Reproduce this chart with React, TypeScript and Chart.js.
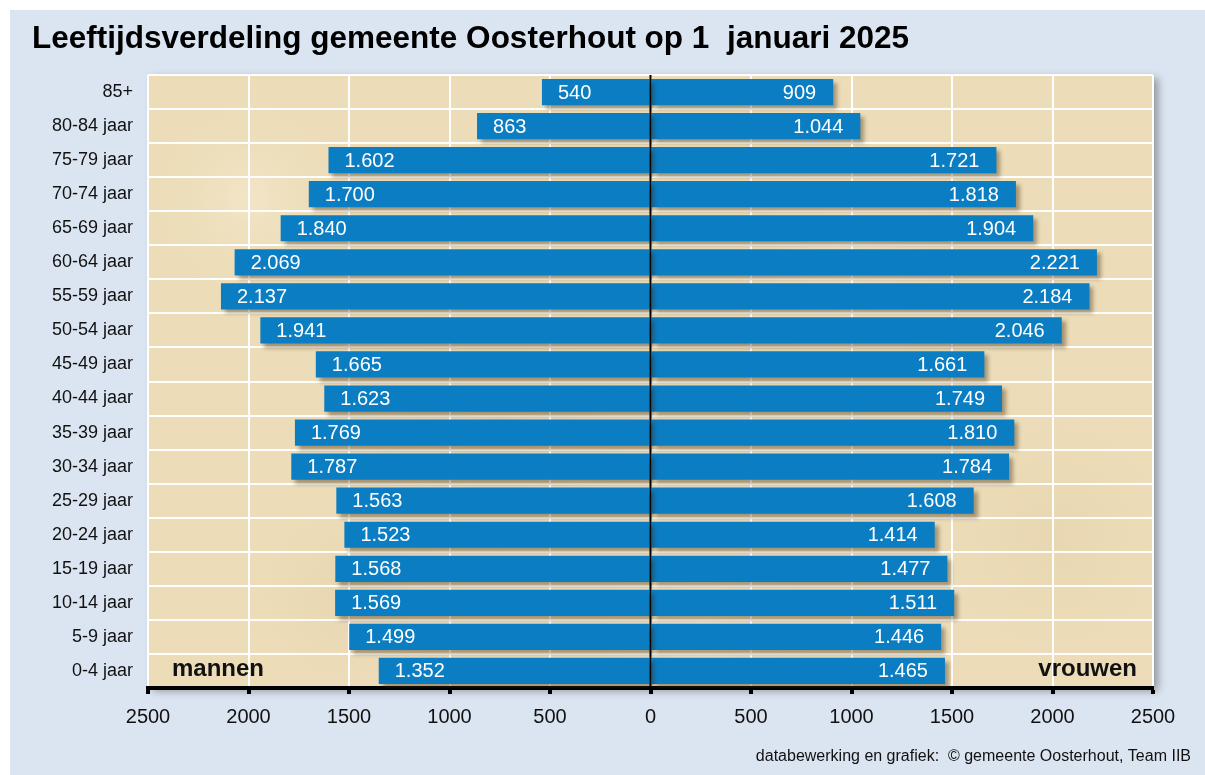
import React, { useEffect, useRef } from "react";
import { Chart, registerables } from "chart.js";

Chart.register(...registerables);

const categories = [
  "85+", "80-84 jaar", "75-79 jaar", "70-74 jaar", "65-69 jaar", "60-64 jaar",
  "55-59 jaar", "50-54 jaar", "45-49 jaar", "40-44 jaar", "35-39 jaar", "30-34 jaar",
  "25-29 jaar", "20-24 jaar", "15-19 jaar", "10-14 jaar", "5-9 jaar", "0-4 jaar",
];
const mannen = [540, 863, 1602, 1700, 1840, 2069, 2137, 1941, 1665, 1623, 1769, 1787, 1563, 1523, 1568, 1569, 1499, 1352];
const vrouwen = [909, 1044, 1721, 1818, 1904, 2221, 2184, 2046, 1661, 1749, 1810, 1784, 1608, 1414, 1477, 1511, 1446, 1465];
const axisMin = -2500;
const axisMax = 2500;
const axisStep = 500;

const TITLE = "Leeftijdsverdeling gemeente Oosterhout op 1  januari 2025";
const FOOTER = "databewerking en grafiek:  \u00A9 gemeente Oosterhout, Team IIB";
const FONT = "'Liberation Sans', Arial, Helvetica, sans-serif";
const BLUE = "#0b7dc2";

const fmt = (v: number) => {
  const s = String(Math.abs(v));
  return s.length > 3 ? s.slice(0, -3) + "." + s.slice(-3) : s;
};

const decor = {
  id: "decor",
  beforeDraw(chart: any) {
    const { ctx, chartArea: a, width, height } = chart;
    ctx.save();
    ctx.fillStyle = "#ffffff";
    ctx.fillRect(0, 0, width, height);
    ctx.fillStyle = "#dbe5f1";
    ctx.fillRect(10, 10, width - 10, height - 10);
    ctx.shadowColor = "rgba(0,0,0,0.35)";
    ctx.shadowBlur = 8;
    ctx.shadowOffsetX = 5;
    ctx.shadowOffsetY = 3;
    ctx.fillStyle = "#ecdcb7";
    ctx.fillRect(a.left, a.top, a.right - a.left, a.bottom - a.top);
    ctx.restore();
    // soft parchment mottling
    ctx.save();
    ctx.beginPath();
    ctx.rect(a.left, a.top, a.right - a.left, a.bottom - a.top);
    ctx.clip();
    const spots = [
      [0.1, 0.2, 120, "rgba(248,238,214,0.5)"],
      [0.35, 0.6, 160, "rgba(222,200,160,0.35)"],
      [0.7, 0.3, 140, "rgba(246,236,210,0.5)"],
      [0.9, 0.75, 150, "rgba(224,204,165,0.35)"],
      [0.55, 0.9, 120, "rgba(248,238,214,0.45)"],
      [0.2, 0.85, 110, "rgba(222,202,162,0.35)"],
    ];
    for (const [fx, fy, r, c] of spots as any) {
      const x = a.left + fx * (a.right - a.left);
      const y = a.top + fy * (a.bottom - a.top);
      const g = ctx.createRadialGradient(x, y, 0, x, y, r);
      g.addColorStop(0, c);
      g.addColorStop(1, "rgba(236,220,183,0)");
      ctx.fillStyle = g;
      ctx.fillRect(x - r, y - r, 2 * r, 2 * r);
    }
    ctx.restore();
  },
  beforeDatasetDraw(chart: any) {
    const ctx = chart.ctx;
    ctx.save();
    ctx.shadowColor = "rgba(60,40,10,0.4)";
    ctx.shadowBlur = 4;
    ctx.shadowOffsetX = 4;
    ctx.shadowOffsetY = 4;
  },
  afterDatasetDraw(chart: any) {
    chart.ctx.restore();
  },
  afterDatasetsDraw(chart: any) {
    const { ctx, chartArea: a } = chart;
    ctx.save();
    ctx.font = `20px ${FONT}`;
    ctx.fillStyle = "#ffffff";
    ctx.textBaseline = "middle";
    chart.getDatasetMeta(0).data.forEach((el: any, i: number) => {
      ctx.textAlign = "left";
      ctx.fillText(fmt(mannen[i]), el.x + 16, el.y + 1);
    });
    chart.getDatasetMeta(1).data.forEach((el: any, i: number) => {
      ctx.textAlign = "right";
      ctx.fillText(fmt(vrouwen[i]), el.x - 17, el.y + 1);
    });
    const x0 = chart.scales.x.getPixelForValue(0);
    ctx.strokeStyle = "#000";
    ctx.lineWidth = 2;
    ctx.beginPath();
    ctx.moveTo(x0, a.top);
    ctx.lineTo(x0, a.bottom);
    ctx.stroke();
    ctx.restore();
  },
  afterDraw(chart: any) {
    const { ctx, chartArea: a, width } = chart;
    ctx.save();
    ctx.fillStyle = "#111";
    ctx.textBaseline = "middle";
    ctx.font = `bold 24px ${FONT}`;
    ctx.textAlign = "left";
    ctx.fillText("mannen", a.left + 24, 669);
    ctx.textAlign = "right";
    ctx.fillText("vrouwen", a.right - 16, 669);
    ctx.font = `16px ${FONT}`;
    ctx.fillStyle = "#111";
    ctx.fillText(FOOTER, width - 14, 757);
    ctx.restore();
  },
};

export default function App() {
  const ref = useRef<HTMLCanvasElement>(null);
  useEffect(() => {
    document.body.style.margin = "0";
    const chart = new Chart(ref.current as HTMLCanvasElement, {
      type: "bar",
      data: {
        labels: categories,
        datasets: [
          { label: "mannen", data: mannen.map((v) => -v), backgroundColor: BLUE, barPercentage: 0.77, categoryPercentage: 1 },
          { label: "vrouwen", data: vrouwen, backgroundColor: BLUE, barPercentage: 0.77, categoryPercentage: 1 },
        ],
      },
      options: {
        indexAxis: "y",
        responsive: false,
        animation: false,
        layout: { padding: { left: 32, right: 52, top: 16, bottom: 0 } },
        plugins: {
          legend: { display: false },
          tooltip: { enabled: false },
          title: {
            display: true,
            text: TITLE,
            align: "start",
            color: "#000",
            font: { family: FONT, size: 31.5, weight: "bold" },
            padding: { top: 4, bottom: 17.2 },
          },
        },
        scales: {
          x: {
            stacked: true,
            min: axisMin,
            max: axisMax,
            afterFit: (s: any) => { s.height = 87; },
            ticks: {
              stepSize: axisStep,
              callback: (v: any) => String(Math.abs(Number(v))),
              color: "#111",
              font: { family: FONT, size: 20 },
              padding: 11,
              maxRotation: 0,
            },
            grid: {
              color: "#ffffff",
              lineWidth: 2,
              tickColor: "#000",
              tickLength: 6,
              tickWidth: 4,
            },
            border: { display: true, color: "#000", width: 4 },
          },
          y: {
            stacked: true,
            afterFit: (s: any) => { s.width = 116; },
            ticks: {
              color: "#111",
              font: { family: FONT, size: 18 },
              padding: 15,
            },
            grid: { color: "rgba(255,255,255,0.95)", lineWidth: 2, drawTicks: false },
            border: { display: false },
          },
        },
      },
      plugins: [decor],
    } as any);
    return () => chart.destroy();
  }, []);
  return <canvas ref={ref} width={1205} height={775} style={{ display: "block" }} />;
}
